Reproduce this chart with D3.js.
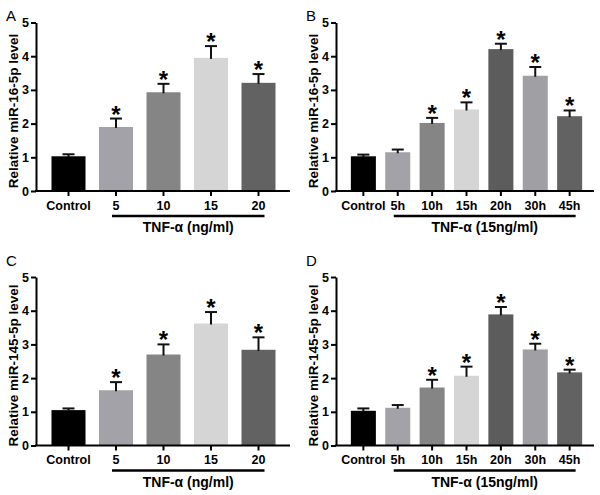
<!DOCTYPE html>
<html><head><meta charset="utf-8">
<script src="https://cdn.jsdelivr.net/npm/d3@7"></script>
<style>
body{margin:0;background:#fff;}
svg{display:block;font-family:"Liberation Sans",Arial,sans-serif;}
</style></head>
<body><svg id="c" width="600" height="495"></svg>
<script>
// ---- data ----
const catsDose = ["Control","5","10","15","20"];
const catsTime = ["Control","5h","10h","15h","20h","30h","45h"];
const yTicks = [0,1,2,3,4,5];

const meanA = [1.03,1.90,2.93,3.95,3.21];
const errA  = [0.06,0.25,0.25,0.35,0.26];
const sigA  = [0,1,1,1,1];

const meanB = [1.03,1.15,2.02,2.42,4.21,3.42,2.22];
const errB  = [0.05,0.08,0.15,0.21,0.16,0.26,0.17];
const sigB  = [0,0,1,1,1,1,1];

const meanC = [1.05,1.64,2.70,3.62,2.84];
const errC  = [0.05,0.24,0.30,0.34,0.37];
const sigC  = [0,1,1,1,1];

const meanD = [1.03,1.12,1.72,2.07,3.89,2.85,2.17];
const errD  = [0.07,0.08,0.23,0.27,0.22,0.17,0.08];
const sigD  = [0,0,1,1,1,1,1];

const colorsDose = ["#000000","#a2a2a8","#858585","#d5d5d5","#626262"];
const colorsTime = ["#000000","#a2a2a8","#858585","#d5d5d5","#5c5c5c","#a0a0a4","#626262"];

const svg = d3.select("#c");

function panel(o){
  const g = svg.append("g");
  const x = d3.scaleBand().domain(o.cats).range(o.xr).paddingInner(o.pad).paddingOuter(o.pad);
  const y = d3.scaleLinear().domain([0,5]).range([o.y0, o.y0-168.5]);

  // panel letter
  g.append("text").attr("x",o.ax-30).attr("y",o.ly).attr("font-size",15)
    .attr("font-weight","normal").text(o.letter);

  // bars
  g.selectAll("rect.bar").data(o.mean).join("rect")
    .attr("x",(d,i)=>x(o.cats[i])).attr("width",x.bandwidth())
    .attr("y",d=>y(d)).attr("height",d=>y(0)-y(d))
    .attr("fill",(d,i)=>o.colors[i]);

  // error bars
  const cap = 12;
  o.mean.forEach((m,i)=>{
    const cx = x(o.cats[i])+x.bandwidth()/2;
    const top = y(m+o.err[i]);
    g.append("line").attr("x1",cx).attr("x2",cx).attr("y1",y(m)+1).attr("y2",top)
      .attr("stroke","#111").attr("stroke-width",2);
    g.append("line").attr("x1",cx-cap/2).attr("x2",cx+cap/2).attr("y1",top).attr("y2",top)
      .attr("stroke","#111").attr("stroke-width",2);
    if(o.sig[i]){
      g.append("text").attr("x",cx).attr("y",top+4).attr("text-anchor","middle")
        .attr("font-size",24).attr("font-weight","bold").text("*");
    }
  });

  // y axis
  const ya = g.append("g").attr("transform",`translate(${o.ax},0)`)
    .call(d3.axisLeft(y).tickValues(yTicks).tickFormat(d3.format("d")).tickSize(5).tickSizeOuter(0).tickPadding(2));
  ya.select(".domain").attr("stroke","#000").attr("stroke-width",2);
  ya.selectAll(".tick line").attr("stroke","#000").attr("stroke-width",2);
  ya.selectAll(".tick text").attr("font-size",12.5).attr("font-weight","bold")
    .attr("font-family","Liberation Sans, Arial, sans-serif").attr("fill","#000");

  // x axis
  const xa = g.append("g").attr("transform",`translate(0,${y(0)})`)
    .call(d3.axisBottom(x).tickSize(5).tickSizeOuter(0).tickPadding(5));
  xa.select(".domain").remove();
  xa.selectAll(".tick line").attr("stroke","#000").attr("stroke-width",2);
  xa.selectAll(".tick text").attr("font-size",12.5).attr("font-weight","bold")
    .attr("font-family","Liberation Sans, Arial, sans-serif").attr("fill","#000");
  g.append("line").attr("x1",o.ax-1).attr("x2",o.xend).attr("y1",y(0)).attr("y2",y(0))
    .attr("stroke","#000").attr("stroke-width",2);

  // y label
  g.append("text").attr("transform",`translate(${o.ax-23},${o.y0-80}) rotate(-90)`)
    .attr("text-anchor","middle").attr("dominant-baseline","central")
    .attr("font-size",13.5).attr("font-weight","bold").text(o.ylab);

  // treatment underline and title
  const c1 = x(o.cats[1])+x.bandwidth()/2, cN = x(o.cats[o.cats.length-1])+x.bandwidth()/2;
  const u1 = c1-4, u2 = cN+6;
  g.append("line").attr("x1",u1).attr("x2",u2).attr("y1",y(0)+25).attr("y2",y(0)+25)
    .attr("stroke","#000").attr("stroke-width",2.3);
  g.append("text").attr("x",(u1+u2)/2).attr("y",y(0)+41).attr("text-anchor","middle")
    .attr("font-size",14).attr("font-weight","bold").text(o.title);
}

panel({letter:"A",ly:21,cats:catsDose,mean:meanA,err:errA,sig:sigA,colors:colorsDose,
  ax:36,xr:[38,289],pad:0.284,xend:290,y0:191,ylab:"Relative miR-16-5p level",title:"TNF-α (ng/ml)"});
panel({letter:"B",ly:21,cats:catsTime,mean:meanB,err:errB,sig:sigB,colors:colorsTime,
  ax:336,xr:[341.5,591.5],pad:0.272,xend:594,y0:191,ylab:"Relative miR-16-5p level",title:"TNF-α (15ng/ml)"});
panel({letter:"C",ly:265.5,cats:catsDose,mean:meanC,err:errC,sig:sigC,colors:colorsDose,
  ax:36,xr:[38,289],pad:0.284,xend:290,y0:445.5,ylab:"Relative miR-145-5p level",title:"TNF-α (ng/ml)"});
panel({letter:"D",ly:265.5,cats:catsTime,mean:meanD,err:errD,sig:sigD,colors:colorsTime,
  ax:336,xr:[341.5,591.5],pad:0.272,xend:594,y0:445.5,ylab:"Relative miR-145-5p level",title:"TNF-α (15ng/ml)"});
</script></body></html>
